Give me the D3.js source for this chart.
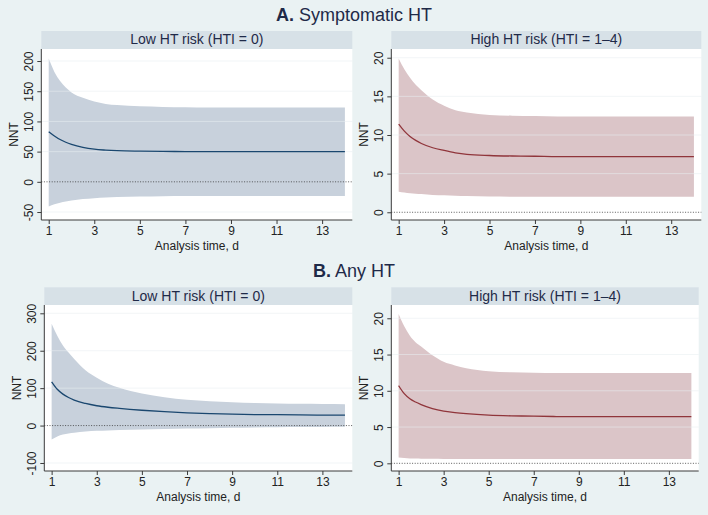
<!DOCTYPE html>
<html>
<head>
<meta charset="utf-8">
<script src="https://cdn.jsdelivr.net/npm/d3@7"></script>
<style>
  html, body { margin: 0; padding: 0; background: #eaf2f3; }
  svg { display: block; font-family: "Liberation Sans", Arial, Helvetica, sans-serif; }
</style>
</head>
<body>
<svg id="chart" width="708" height="515"></svg>
<script>
// ---------- DATA ----------
const days = [1, 1.25, 1.5, 1.75, 2, 2.5, 3, 3.5, 4, 5, 6, 7, 8, 9, 10, 11, 12, 13, 14];

// A. Symptomatic HT – Low HT risk
const aLowUpper = [204, 182, 167, 156, 148, 139, 133, 129, 127, 125, 124, 123.5, 123, 123, 123, 123, 123, 123, 123];
const aLowNNT   = [83, 76, 70, 65.5, 62, 57, 54, 52.5, 51.5, 50.7, 50.3, 50.1, 50, 50, 50, 50, 50, 50, 50];
const aLowLower = [-41, -37, -34.5, -32.5, -31, -28.5, -27, -26, -25.3, -24.5, -24, -23.5, -23.5, -23.5, -23.5, -23.5, -23.5, -23.5, -23.5];

// A. Symptomatic HT – High HT risk
const aHighUpper = [19.9, 18.5, 17.4, 16.5, 15.8, 14.6, 13.8, 13.2, 12.9, 12.6, 12.5, 12.45, 12.4, 12.4, 12.4, 12.4, 12.4, 12.4, 12.4];
const aHighNNT   = [11.4, 10.5, 9.8, 9.3, 8.9, 8.35, 8.0, 7.7, 7.5, 7.35, 7.28, 7.25, 7.2, 7.2, 7.2, 7.2, 7.2, 7.2, 7.2];
const aHighLower = [2.65, 2.55, 2.45, 2.4, 2.35, 2.25, 2.2, 2.15, 2.1, 2.05, 2.02, 2.0, 2.0, 2.0, 2.0, 2.0, 2.0, 2.0, 2.0];

// B. Any HT – Low HT risk
const bLowUpper = [272, 240, 214, 195, 178, 148, 128, 112, 101, 86, 76, 69, 65, 62, 60, 59, 58, 57.5, 57];
const bLowNNT   = [117, 97, 84, 75, 68, 59, 53, 49, 46, 41, 37, 34, 32, 30.5, 29.5, 29, 28.5, 28, 28];
const bLowLower = [-37, -29, -24, -21, -19, -16, -14, -13, -12, -10.5, -9, -8, -7, -6, -5, -4.5, -4, -3.5, -3];

// B. Any HT – High HT risk
const bHighUpper = [20.6, 18.9, 17.6, 16.7, 16.1, 14.9, 14.0, 13.5, 13.1, 12.7, 12.55, 12.5, 12.45, 12.45, 12.45, 12.45, 12.45, 12.45, 12.45];
const bHighNNT   = [10.7, 9.6, 8.9, 8.45, 8.1, 7.55, 7.2, 7.0, 6.85, 6.65, 6.55, 6.5, 6.45, 6.43, 6.43, 6.43, 6.43, 6.43, 6.43];
const bHighLower = [0.8, 0.72, 0.68, 0.65, 0.63, 0.62, 0.61, 0.6, 0.6, 0.6, 0.6, 0.6, 0.6, 0.6, 0.6, 0.6, 0.6, 0.6, 0.6];

const xTicks = [1, 3, 5, 7, 9, 11, 13];
const yTicksALow = [-50, 0, 50, 100, 150, 200];
const yTicksAHigh = [0, 5, 10, 15, 20];
const yTicksBLow = [-100, 0, 100, 200, 300];
const yTicksBHigh = [0, 5, 10, 15, 20];

const sectionLetters = ["A.", "B."];
const sectionTitles = ["Symptomatic HT", "Any HT"];
const stripTitles = ["Low HT risk (HTI = 0)", "High HT risk (HTI = 1–4)"];
const xTitle = "Analysis time, d";
const yTitle = "NNT";

// ---------- STYLE / LAYOUT ----------
const colors = {
  navyLine: "#1a476f", navyBand: "#c8d1dc",
  maroonLine: "#90353b", maroonBand: "#dbc5c8",
  strip: "#d7e1e7", text: "#1f2a48", grid: "#e9eff2", axis: "#3a3a3a"
};

const panels = [
  { x0: 41.3, x1: 352.3, top: 31, plotTop: 49, bottom: 220, yDom: [-63.2, 219.9], yTicks: yTicksALow,
    upper: aLowUpper, mid: aLowNNT, lower: aLowLower, line: colors.navyLine, band: colors.navyBand, strip: stripTitles[0] },
  { x0: 391.3, x1: 701.3, top: 31, plotTop: 49, bottom: 220, yDom: [-1.0, 21.13], yTicks: yTicksAHigh,
    upper: aHighUpper, mid: aHighNNT, lower: aHighLower, line: colors.maroonLine, band: colors.maroonBand, strip: stripTitles[1] },
  { x0: 44.3, x1: 352.3, top: 287.3, plotTop: 305, bottom: 471, yDom: [-121.4, 322.2], yTicks: yTicksBLow,
    upper: bLowUpper, mid: bLowNNT, lower: bLowLower, line: colors.navyLine, band: colors.navyBand, strip: stripTitles[0] },
  { x0: 391.3, x1: 698.7, top: 287.3, plotTop: 305, bottom: 471, yDom: [-1.06, 21.83], yTicks: yTicksBHigh,
    upper: bHighUpper, mid: bHighNNT, lower: bHighLower, line: colors.maroonLine, band: colors.maroonBand, strip: stripTitles[1] }
];

const svg = d3.select("#chart");
svg.append("rect").attr("width", 708).attr("height", 515).attr("fill", "#eaf2f3");

// Section titles
const titleY = [20.7, 276.7];
sectionTitles.forEach((t, i) => {
  const tx = svg.append("text")
    .attr("x", 354).attr("y", titleY[i])
    .attr("text-anchor", "middle")
    .attr("font-size", 18).attr("fill", colors.text);
  tx.append("tspan").attr("font-weight", "bold").text(sectionLetters[i]);
  tx.append("tspan").text(" " + t);
});

const fmt = d => String(d);

panels.forEach(p => {
  const g = svg.append("g");
  const x = d3.scaleLinear().domain([0.675, 14.325]).range([p.x0, p.x1]);
  const y = d3.scaleLinear().domain(p.yDom).range([p.bottom, p.plotTop]);

  // strip
  g.append("rect").attr("x", p.x0).attr("y", p.top).attr("width", p.x1 - p.x0).attr("height", p.plotTop - p.top)
    .attr("fill", colors.strip);
  g.append("text").attr("x", (p.x0 + p.x1) / 2).attr("y", p.top + 13.2)
    .attr("text-anchor", "middle").attr("font-size", 14).attr("fill", colors.text).text(p.strip);

  // plot area
  g.append("rect").attr("x", p.x0).attr("y", p.plotTop).attr("width", p.x1 - p.x0).attr("height", p.bottom - p.plotTop)
    .attr("fill", "#ffffff");

  const pts = days.map((d, i) => ({ d, u: p.upper[i], m: p.mid[i], l: p.lower[i] }));

  // band
  const area = d3.area().x(d => x(d.d)).y0(d => y(d.l)).y1(d => y(d.u)).curve(d3.curveMonotoneX);
  g.append("path").datum(pts).attr("d", area).attr("fill", p.band);

  // gridlines (drawn over the band, light)
  g.selectAll(".grid").data(p.yTicks.filter(v => v !== 0)).enter().append("line")
    .attr("x1", p.x0).attr("x2", p.x1).attr("y1", d => y(d)).attr("y2", d => y(d))
    .attr("stroke", colors.grid).attr("stroke-width", 1).attr("opacity", 0.55);

  // zero reference line
  g.append("line").attr("x1", p.x0).attr("x2", p.x1).attr("y1", y(0)).attr("y2", y(0))
    .attr("stroke", "#333").attr("stroke-width", 0.8).attr("stroke-dasharray", "1,1.6");

  // center line
  const line = d3.line().x(d => x(d.d)).y(d => y(d.m)).curve(d3.curveMonotoneX);
  g.append("path").datum(pts).attr("d", line).attr("fill", "none")
    .attr("stroke", p.line).attr("stroke-width", 1.3);

  // x axis
  const xAxis = d3.axisBottom(x).tickValues(xTicks).tickSize(4).tickSizeOuter(0).tickPadding(2).tickFormat(fmt);
  const gx = g.append("g").attr("transform", `translate(0,${p.bottom})`).call(xAxis);
  gx.select(".domain").attr("stroke", colors.axis).attr("d", `M${p.x0},0H${p.x1}`);
  gx.selectAll(".tick line").attr("stroke", colors.axis);
  gx.selectAll("text").attr("font-size", 12).attr("fill", "#222").attr("font-family", "Liberation Sans, Arial, sans-serif");

  // y axis
  const yAxis = d3.axisLeft(y).tickValues(p.yTicks).tickSize(4).tickSizeOuter(0).tickFormat(fmt);
  const gy = g.append("g").attr("transform", `translate(${p.x0},0)`).call(yAxis);
  gy.select(".domain").attr("stroke", colors.axis).attr("d", `M0,${p.plotTop}V${p.bottom}`);
  gy.selectAll(".tick line").attr("stroke", colors.axis);
  gy.selectAll(".tick text")
    .attr("x", null).attr("dy", null)
    .attr("font-size", 12).attr("fill", "#222").attr("font-family", "Liberation Sans, Arial, sans-serif")
    .attr("text-anchor", "middle")
    .attr("transform", "translate(-8,0) rotate(-90)");

  // axis titles
  g.append("text").attr("x", (p.x0 + p.x1) / 2).attr("y", p.bottom + 30)
    .attr("text-anchor", "middle").attr("font-size", 12).attr("fill", "#222").text(xTitle);
  g.append("text").attr("transform", `translate(${p.x0 - 23},${(p.plotTop + p.bottom) / 2}) rotate(-90)`)
    .attr("text-anchor", "middle").attr("font-size", 12).attr("fill", "#222").text(yTitle);
});
</script>
</body>
</html>
